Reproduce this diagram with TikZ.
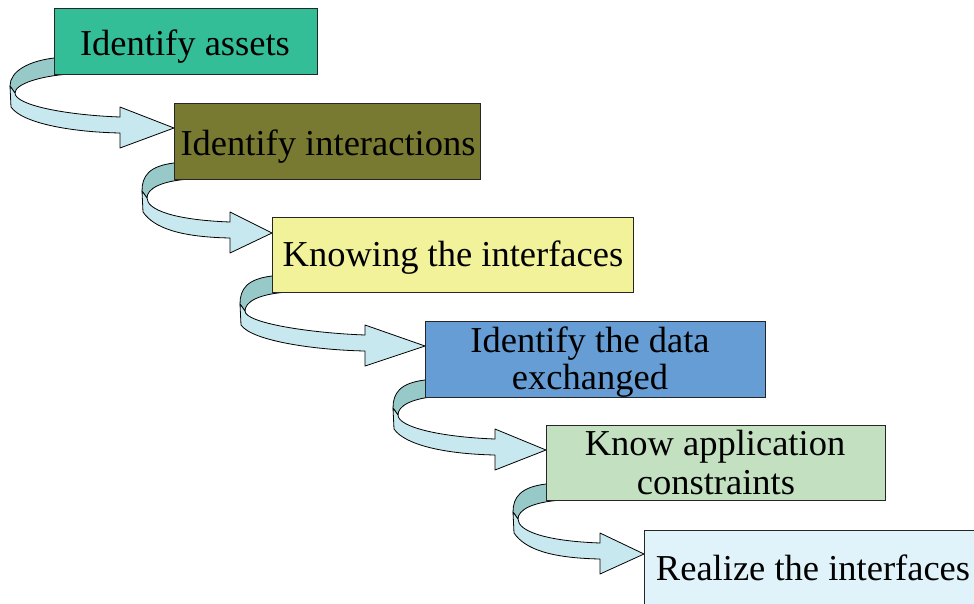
\documentclass[tikz,border=0pt]{standalone}
\usepackage{fontspec}
\setmainfont{Liberation Serif}
\definecolor{cA}{RGB}{52,190,152}
\definecolor{cB}{RGB}{120,122,50}
\definecolor{cC}{RGB}{242,242,155}
\definecolor{cD}{RGB}{102,157,212}
\definecolor{cE}{RGB}{195,224,192}
\definecolor{cF}{RGB}{225,243,250}
\definecolor{darkface}{RGB}{150,201,200}
\definecolor{lightface}{RGB}{198,232,238}
\tikzset{
  box/.style={draw=black!85, line width=0.9pt, inner sep=0pt},
  txt/.style={anchor=base, inner sep=0pt, font=\fontsize{36.5}{40}\selectfont},
  rib/.style={draw=black, line width=0.8pt, line join=round},
}
% #1 box left x, #2 ribbon left x, #3 head base x, #4 tip x, #5 tip y
\newcommand{\ribbon}[5]{%
  \filldraw[rib, fill=darkface] (#1,#5-70) .. controls (#1-25,#5-67) and (#2,#5-57) .. (#2,#5-42)
    -- (#2+5,#5-35) .. controls (#2+5,#5-44) and (#1-14,#5-52) .. (#1+16,#5-54)
    -- (#1+16,#5-60) -- cycle;
  \filldraw[rib, fill=lightface] (#2,#5-42) -- (#2+1,#5-21)
    .. controls (#2+12,#5-5) and (#3-50,#5+4) .. (#3,#5+5)
    -- (#3,#5+20) -- (#4,#5) -- (#3,#5-21) -- (#3,#5-11)
    .. controls (#3-55,#5-13) and (#2+5,#5-23) .. (#2+5,#5-35) -- cycle;
}
\begin{document}
\begin{tikzpicture}[x=1pt,y=-1pt]
\useasboundingbox (0,0) rectangle (974,603);
% ribbons (curved arrows)
\ribbon{54}{10}{120}{174}{128}
\ribbon{174}{142}{230}{272}{233}
\ribbon{272}{240}{365}{425}{346}
\ribbon{425}{393}{495}{546}{450}
\ribbon{546}{513}{600}{644}{554}
% boxes
\node[box, fill=cA, minimum width=263pt, minimum height=66pt] (b1) at (185.5,41) {};
\node[box, fill=cB, minimum width=306pt, minimum height=76pt] (b2) at (327,141) {};
\node[box, fill=cC, minimum width=361pt, minimum height=75pt] (b3) at (452.5,254.5) {};
\node[box, fill=cD, minimum width=340pt, minimum height=76pt] (b4) at (595,359) {};
\node[box, fill=cE, minimum width=339pt, minimum height=75pt] (b5) at (715.5,462.5) {};
\node[box, fill=cF, minimum width=346pt, minimum height=90pt] (b6) at (817,575) {};
% texts
\node[txt] (t1) at (185,55) {Identify assets};
\node[txt] (t2) at (328,155) {Identify interactions};
\node[txt] (t3) at (453,266) {Knowing the interfaces};
\node[txt] (t4a) at (590,352) {Identify the data};
\node[txt] (t4b) at (590,389) {exchanged};
\node[txt] (t5a) at (715,455) {Know application};
\node[txt] (t5b) at (716,494) {constraints};
\node[txt] (t6) at (813,580) {Realize the interfaces};
\end{tikzpicture}
\end{document}
